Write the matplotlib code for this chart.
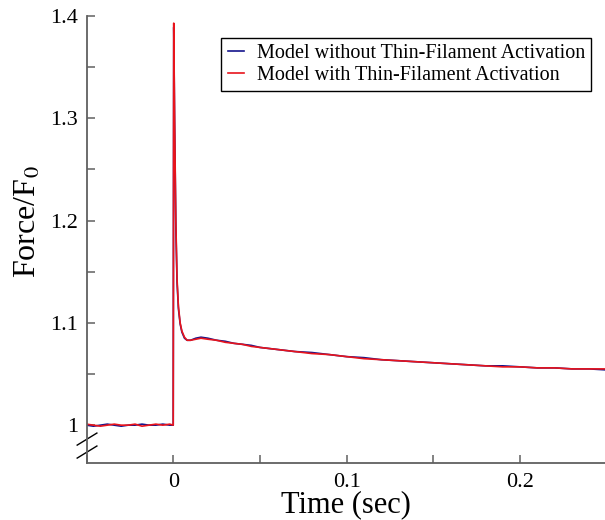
import matplotlib
matplotlib.use("Agg")
import matplotlib.pyplot as plt
from matplotlib.ticker import MultipleLocator, FixedLocator

plt.rcParams['font.family'] = ['Liberation Serif', 'DejaVu Serif']
plt.rcParams['mathtext.fontset'] = 'stix'

# time points (sec)
time = [-0.050, -0.046, -0.042, -0.038, -0.034, -0.030, -0.026, -0.022, -0.018,
        -0.014, -0.010, -0.006, -0.002, 0.0, 0.0003, 0.0008, 0.0015, 0.0022,
        0.003, 0.004, 0.005, 0.0065, 0.008, 0.010, 0.013, 0.016, 0.020, 0.025,
        0.030, 0.035, 0.040, 0.045, 0.050, 0.055, 0.060, 0.070, 0.080, 0.090,
        0.100, 0.110, 0.120, 0.130, 0.140, 0.150, 0.160, 0.170, 0.180, 0.190,
        0.200, 0.210, 0.220, 0.230, 0.240, 0.250]

force_without = [1.000, 0.999, 1.000, 1.001, 1.000, 0.999, 1.000, 1.000, 1.001,
                 1.000, 1.000, 1.001, 1.000, 1.000, 1.389, 1.295, 1.195, 1.140,
                 1.114, 1.099, 1.091, 1.085, 1.083, 1.083, 1.085, 1.086, 1.085, 1.083,
                 1.082, 1.080, 1.079, 1.078, 1.076, 1.075, 1.074, 1.072, 1.071, 1.069,
                 1.067, 1.066, 1.064, 1.063, 1.062, 1.061, 1.060, 1.059, 1.058, 1.058,
                 1.057, 1.056, 1.056, 1.055, 1.055, 1.054]

force_with = [1.001, 1.000, 0.999, 1.000, 1.001, 1.000, 1.000, 1.001, 0.999,
              1.000, 1.001, 1.000, 1.001, 1.000, 1.393, 1.300, 1.200, 1.143,
              1.116, 1.100, 1.092, 1.086, 1.083, 1.083, 1.084, 1.085, 1.084, 1.083,
              1.081, 1.080, 1.079, 1.077, 1.076, 1.075, 1.074, 1.072, 1.070, 1.069,
              1.067, 1.065, 1.064, 1.063, 1.062, 1.061, 1.060, 1.059, 1.058, 1.057,
              1.057, 1.056, 1.056, 1.055, 1.055, 1.055]

y_ticks = [1.0, 1.1, 1.2, 1.3, 1.4]
y_labels = ['1', '1.1', '1.2', '1.3', '1.4']
x_ticks = [0.0, 0.1, 0.2]
x_labels = ['0', '0.1', '0.2']

fig = plt.figure(figsize=(6.05, 5.2), dpi=100)
ax = fig.add_axes([0.143, 0.1096, 0.857, 0.8596])

ax.plot(time, force_without, color='#14148c', lw=1.2,
        label='Model without Thin-Filament Activation')
ax.plot(time, force_with, color='#e8141c', lw=1.2,
        label='Model with Thin-Filament Activation')

ax.set_xlim(-0.05, 0.249)
ax.set_ylim(0.963, 1.4)

ax.yaxis.set_major_locator(FixedLocator(y_ticks))
ax.set_yticklabels(y_labels)
ax.yaxis.set_minor_locator(MultipleLocator(0.05))
ax.xaxis.set_major_locator(FixedLocator(x_ticks))
ax.set_xticklabels(x_labels)
ax.xaxis.set_minor_locator(MultipleLocator(0.05))

for s in ['top', 'right']:
    ax.spines[s].set_visible(False)
for s in ['left', 'bottom']:
    ax.spines[s].set_color('#606060')
    ax.spines[s].set_linewidth(1.3)

ax.tick_params(which='both', direction='in', length=5.5, width=1.1,
               color='#606060', labelsize=16)
ax.tick_params(axis='y', pad=6)
ax.tick_params(axis='x', pad=7)

ax.set_xlabel('Time (sec)', fontsize=22, labelpad=-1)
ax.set_ylabel('Force/F$_0$', fontsize=23)
ax.yaxis.set_label_coords(-0.085, 0.54)

# axis break marks
ax.plot([-0.018, 0.020], [0.040, 0.067], transform=ax.transAxes,
        color='black', lw=1.0, clip_on=False)
ax.plot([-0.018, 0.020], [0.011, 0.038], transform=ax.transAxes,
        color='black', lw=1.0, clip_on=False)

leg = ax.legend(loc='upper right', bbox_to_anchor=(0.973, 0.951),
                borderaxespad=0, fontsize=14.5, handlelength=0.8,
                handletextpad=0.65, borderpad=0.3, fancybox=False,
                framealpha=1, edgecolor='black', labelspacing=0.15)
leg.get_frame().set_linewidth(1.0)

fig.savefig('out.png', dpi=100)
